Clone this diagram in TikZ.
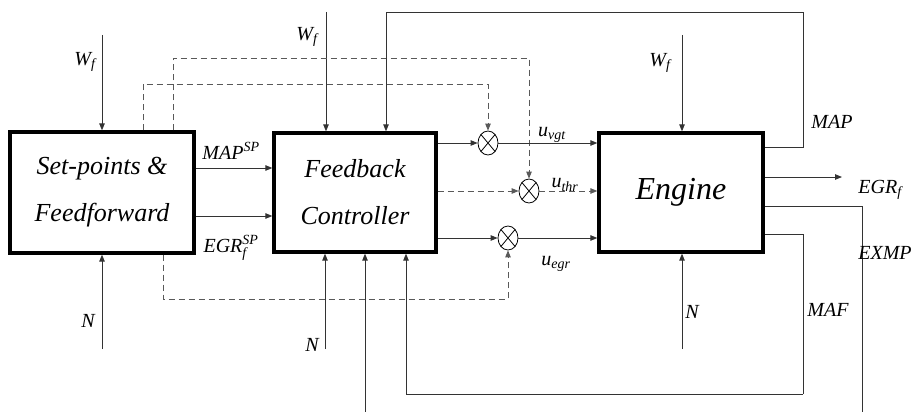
\documentclass[tikz,border=0pt]{standalone}
\usepackage{fontspec}
\setmainfont{Liberation Serif}
\usepackage{amsmath}
\usetikzlibrary{arrows.meta,shapes.geometric}

\tikzset{
	blk/.style={draw, line width=3.3pt, align=center, inner sep=0pt, font=\itshape\fontsize{26}{47}\selectfont},
	mix/.style={draw, ellipse, line width=0.8pt, minimum width=20pt, minimum height=24pt, inner sep=0pt,
		path picture={\draw[line width=0.8pt] (path picture bounding box.north west) -- (path picture bounding box.south east)
			(path picture bounding box.north east) -- (path picture bounding box.south west);}},
	lbl/.style={font=\itshape\fontsize{20}{24}\selectfont, inner sep=0pt},
	sig/.style={->, line width=0.9pt, draw=black!80},
	ff/.style={sig, dash pattern=on 6pt off 4pt, draw=black!65},
}

\begin{document}
\begin{tikzpicture}[x=1pt, y=-1pt, >={Triangle[length=7pt,width=5.5pt]}]
	\useasboundingbox (0,0) rectangle (923,412);
	% blocks
	\node[blk, minimum width=184pt, minimum height=121pt] (spff) at (102,192.5) {Set-points \&\\Feedforward};
	\node[blk, minimum width=162pt, minimum height=119pt] (fbc) at (355,192.5) {Feedback\\Controller};
	\node[blk, minimum width=164pt, minimum height=119pt, font=\itshape\fontsize{32}{38}\selectfont] (eng) at (681,192.5) {Engine};
	% mixers
	\node[mix] (mvgt) at (488,143) {};
	\node[mix] (mthr) at (529,191) {};
	\node[mix] (megr) at (508,238) {};
	% outer inputs
	\coordinate (wfa) at (102,35);
	\coordinate (wfb) at (326,12);
	\coordinate (wfc) at (682,35);
	\coordinate (na) at (102,349);
	\coordinate (nb) at (325,349);
	\coordinate (nc) at (682,349);
	\draw[sig] (wfa) -- (spff.north -| wfa);
	\draw[sig] (wfb) -- (fbc.north -| wfb);
	\draw[sig] (wfc) -- (eng.north -| wfc);
	\draw[sig] (na) -- (spff.south -| na);
	\draw[sig] (nb) -- (fbc.south -| nb);
	\draw[sig] (nc) -- (eng.south -| nc);
	\node[lbl] (lwfa) at (85,62) {W$_\text{f}$};
	\node[lbl] (lwfb) at (307,37) {W$_\text{f}$};
	\node[lbl] (lwfc) at (660,63) {W$_\text{f}$};
	\node[lbl] (lna) at (88,321) {N};
	\node[lbl] (lnb) at (312,345) {N};
	\node[lbl] (lnc) at (692,312) {N};
	% set-points
	\draw[sig] (spff.east |- 0,168) -- (fbc.west |- 0,168);
	\draw[sig] (spff.east |- 0,216) -- (fbc.west |- 0,216);
	\node[lbl] (lmapsp) at (231,151) {MAP$^\text{SP}$};
	\node[lbl] (legrsp) at (231,248) {EGR$^\text{SP}_\text{f}$};
	% feedforward (dashed)
	\draw[ff] (spff.north -| 143,0) |- (mvgt |- 0,84) -- (mvgt);
	\draw[ff] (spff.north -| 173,0) |- (mthr |- 0,58) -- (mthr);
	\draw[ff] (spff.south -| 163,0) |- (megr |- 0,299) -- (megr);
	% actuators
	\draw[sig] (fbc.east |- mvgt) -- (mvgt);
	\draw[sig] (mvgt) -- (eng.west |- mvgt);
	\draw[ff] (fbc.east |- mthr) -- (mthr);
	\draw[ff] (mthr) -- (eng.west |- mthr);
	\draw[sig] (fbc.east |- megr) -- (megr);
	\draw[sig] (megr) -- (eng.west |- megr);
	\node[lbl] (luvgt) at (552,135) {u$_\text{vgt}$};
	\node[lbl] (luthr) at (565,185) {u$_\text{thr}$};
	\node[lbl] (luegr) at (556,264) {u$_\text{egr}$};
	% outputs and feedback
	\coordinate (egrf) at (842,177);
	\coordinate (exmpa) at (862,412);
	\coordinate (exmpb) at (365,412);
	\draw[sig, -] (eng.east |- 0,147) -| (803,12) coordinate (mapc);
	\draw[sig] (mapc) -| (fbc.north -| 386,0);
	\draw[sig] (eng.east |- egrf) -- (egrf);
	\draw[sig, -] (eng.east |- 0,206) -| (exmpa);
	\draw[sig] (exmpb) -- (fbc.south -| exmpb);
	\draw[sig, -] (eng.east |- 0,234) -| (803,394) coordinate (mafc);
	\draw[sig] (mafc) -| (fbc.south -| 406,0);
	\node[lbl] (lmap) at (832,122) {MAP};
	\node[lbl] (legrf) at (880,190) {EGR$_\text{f}$};
	\node[lbl] (lexmp) at (885,253) {EXMP};
	\node[lbl] (lmaf) at (828,310) {MAF};
\end{tikzpicture}
\end{document}
